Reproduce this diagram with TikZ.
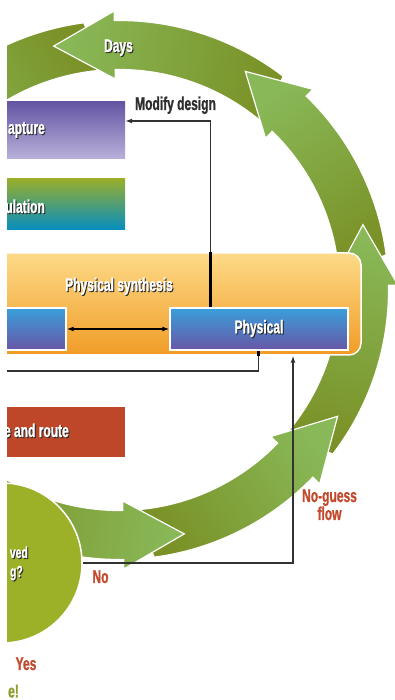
\documentclass[tikz,border=0pt]{standalone}
\usepackage{fontspec}
\usetikzlibrary{calc,arrows.meta}
\newfontfamily\condfont[FakeStretch=0.65,FakeBold=1]{Liberation Sans Bold}
\definecolor{ringdark}{RGB}{122,145,38}
\definecolor{ringlight}{RGB}{137,184,88}
\definecolor{capTop}{RGB}{100,85,163}
\definecolor{capBot}{RGB}{185,177,219}
\definecolor{simTop}{RGB}{153,174,44}
\definecolor{simMid}{RGB}{30,152,150}
\definecolor{simBot}{RGB}{5,142,192}
\definecolor{orTop}{RGB}{253,218,136}
\definecolor{orBot}{RGB}{240,156,38}
\definecolor{blTop}{RGB}{58,159,219}
\definecolor{blBot}{RGB}{103,86,166}
\definecolor{prRed}{RGB}{190,71,41}
\definecolor{circGreen}{RGB}{156,177,40}
\definecolor{redtext}{RGB}{194,74,46}
\definecolor{olivetext}{RGB}{142,158,44}
\definecolor{darktext}{RGB}{46,46,46}
\definecolor{linegray}{RGB}{50,50,50}
\newcommand\sh[1]{\makebox[0pt][l]{\hspace{1pt}\raisebox{-1pt}{\color{black!85}#1}}#1}
\begin{document}
\begin{tikzpicture}[x=1pt,y=1pt,
  lbl/.style={font=\condfont\fontsize{18.5}{19}\selectfont, text=white, inner sep=0pt},
  slbl/.style={font=\condfont\fontsize{16}{17}\selectfont, text=white, inner sep=0pt},
  dlbl/.style={font=\condfont\fontsize{18.5}{19}\selectfont, text=darktext, inner sep=0pt},
  rlbl/.style={font=\condfont\fontsize{18.5}{18}\selectfont, text=redtext, inner sep=0pt, align=center},
  conn/.style={draw=linegray, line width=1.3pt},
  inseg/.style={draw=black, line width=2.2pt},
  tipend/.style={-{Latex[length=7pt,width=5pt]}},
  ringarrow/.style={top color=ringlight, bottom color=ringdark, draw=white, line width=1.2pt, line join=miter},
  capbox/.style={rectangle, inner sep=0pt, minimum width=175pt, minimum height=57pt, top color=capTop, bottom color=capBot},
  simbox/.style={rectangle, inner sep=0pt, minimum width=175pt, minimum height=51pt, top color=simTop, middle color=simMid, bottom color=simBot},
  orangebox/.style={rectangle, rounded corners=12pt, inner sep=0pt, minimum width=411pt, minimum height=102pt, top color=orTop, bottom color=orBot, draw=white, line width=1.5pt},
  bluebox/.style={rectangle, inner sep=0pt, minimum height=42pt, top color=blTop, bottom color=blBot, draw=white, line width=1.2pt, font=\condfont\fontsize{18.5}{19}\selectfont, text=white},
  redbox/.style={rectangle, inner sep=0pt, minimum width=175pt, minimum height=50pt, fill=prRed},
  decision/.style={circle, inner sep=0pt, minimum size=160pt, fill=circGreen, draw=white, line width=1.5pt}
]
\useasboundingbox (0,0) rectangle (395,700);
\fill[white] (0,0) rectangle (395,700);
\clip (7,0) rectangle (395,700);

% ring of arrows
\coordinate (C) at (119,410);
\foreach \a in {136,91,46,1,316,271}{
  \pgfmathsetmacro\sa{\a-12}
  \shade[ringarrow, shading angle=\sa]
    ($(C)+(\a-42:220.5)$) -- ($(C)+(\a-38.5:269.5)$)
    arc[start angle=\a-38.5, end angle=\a, radius=269.5]
    -- ($(C)+(\a:279)$) -- ($(C)+(\a:245)+(\a+90:61)$) -- ($(C)+(\a:211)$)
    -- ($(C)+(\a:220.5)$)
    arc[start angle=\a, end angle=\a-42, radius=220.5] -- cycle;
}

% boxes
\node[capbox] (cap) at (37.5,569.5) {};
\node[simbox] (sim) at (37.5,495.5) {};
\node[orangebox] (ps) at (155.5,396) {};
\node[bluebox, minimum width=116pt] (lb) at (8,371) {};
\node[bluebox, minimum width=178pt] (phys) at (259,371) {\sh{Physical}};
\node[redbox] (pr) at (37.5,268) {};
\node[decision] (ach) at (2,137) {};

% connectors
\coordinate (m0) at ($(phys.north west)+(41,0)$);
\draw[conn, tipend] (m0) |- ($(cap.east)+(0,9.5)$);
\draw[inseg] (m0) -- (m0 |- ps.north);
\coordinate (b0) at ($(phys.south west)+(89,0)$);
\coordinate (bend) at (0,329);
\draw[conn] (b0) |- (bend);
\draw[inseg] (b0) -- (b0 |- ps.south);
\draw[draw=black, line width=1.5pt, {Latex[length=7pt,width=5pt]}-{Latex[length=7pt,width=5pt]}] (lb.east) -- (phys.west);
\coordinate (ngx) at (293,0);
\draw[conn, tipend] (ach.east) -| (ps.south -| ngx);

% labels
\node[lbl, anchor=base] (days) at (118.5,648) {\sh{Days}};
\node[dlbl, anchor=base] (mod) at (175.5,590) {Modify design};
\node[lbl, anchor=base east] (captxt) at (45,566) {\sh{apture}};
\node[lbl, anchor=base east] (simtxt) at (45,487) {\sh{ulation}};
\node[lbl, anchor=base] (pstxt) at (119,409) {\sh{Physical synthesis}};
\node[lbl, anchor=base east] (prtxt) at (69,263) {\sh{e and route}};
\node[slbl, anchor=base east] (achA) at (28,142) {\sh{ved}};
\node[slbl, anchor=base east] (achB) at (23,123) {\sh{g?}};
\node[rlbl, anchor=base] (no) at (100.5,117) {No};
\node[rlbl, anchor=base] (ngf) at (329.5,180) {No-guess\\flow};
\node[rlbl, anchor=base] (yes) at (26,30) {Yes};
\node[font=\condfont\fontsize{18.5}{19}\selectfont, text=olivetext, inner sep=0pt, anchor=base west] (done) at (8,2.5) {e!};
\end{tikzpicture}
\end{document}
